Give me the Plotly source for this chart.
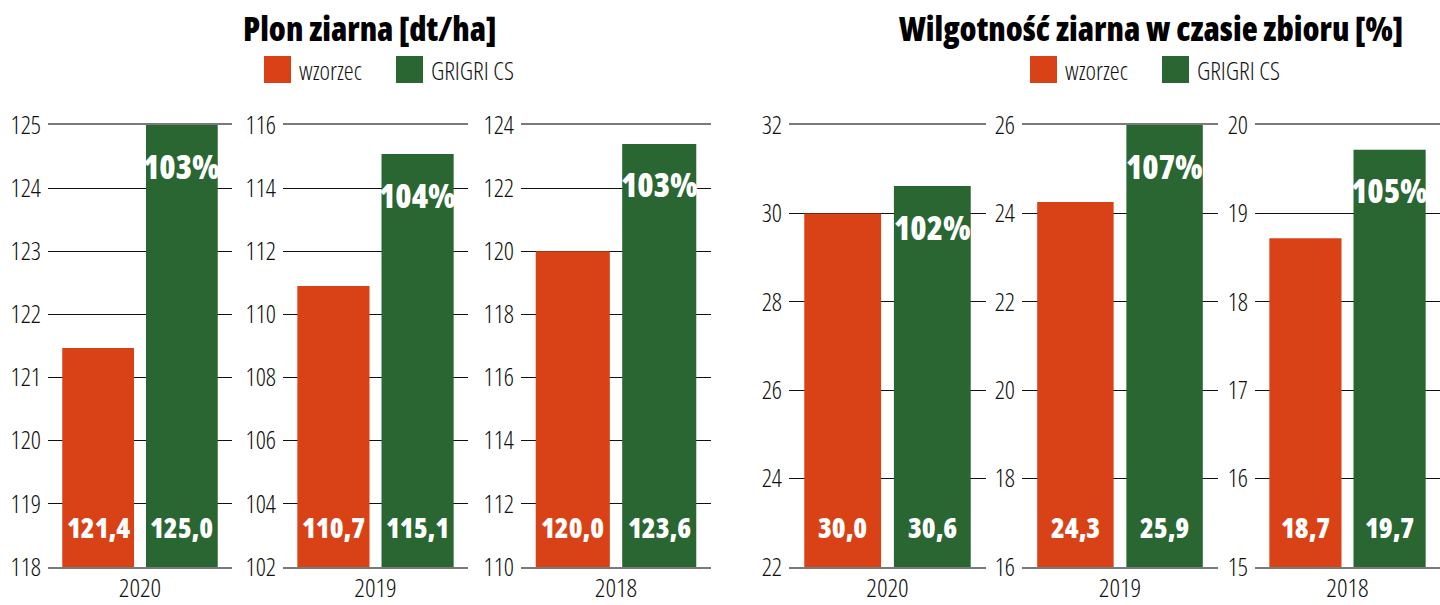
import plotly.graph_objects as go

# ---------------- data ----------------
years = ["2020", "2019", "2018"]
series_names = ["wzorzec", "GRIGRI CS"]

# Plon ziarna [dt/ha]
plon_wzorzec = [121.47, 110.9, 120.0]
plon_grigri = [125.0, 115.08, 123.4]
plon_wzorzec_labels = ["121,4", "110,7", "120,0"]
plon_grigri_labels = ["125,0", "115,1", "123,6"]
plon_pct_labels = ["103%", "104%", "103%"]
plon_axis_min = [118, 102, 110]
plon_axis_max = [125, 116, 124]
plon_axis_step = [1, 2, 2]

# Wilgotność ziarna w czasie zbioru [%]
wilg_wzorzec = [30.0, 24.26, 18.72]
wilg_grigri = [30.62, 26.0, 19.72]
wilg_wzorzec_labels = ["30,0", "24,3", "18,7"]
wilg_grigri_labels = ["30,6", "25,9", "19,7"]
wilg_pct_labels = ["102%", "107%", "105%"]
wilg_axis_min = [22, 16, 15]
wilg_axis_max = [32, 26, 20]
wilg_axis_step = [2, 2, 1]

titles = ["Plon ziarna [dt/ha]", "Wilgotność ziarna w czasie zbioru [%]"]

# ---------------- style ----------------
W, H = 1440, 605
ORANGE = "#D94216"
GREEN = "#2A6632"
FONT = "Open Sans, Roboto, sans-serif"
BAR_W = 0.39      # bar width in category units
BAR_GAP = 0.065   # gap between the two bars


def cond(t):
    return f"<span style='font-stretch:condensed'>{t}</span>"


def px_x(x):
    return x / W


def px_y(y):
    return 1 - y / H


# panel x-domains in pixels
panel_px = [(48, 232), (283, 468), (521, 711), (789, 986), (1022, 1218), (1255, 1440)]
y_dom = [px_y(567), px_y(125)]

fig = go.Figure()

panels = []
for i in range(3):
    panels.append(dict(year=years[i], a=plon_wzorzec[i], b=plon_grigri[i],
                       la=plon_wzorzec_labels[i], lb=plon_grigri_labels[i],
                       pct=plon_pct_labels[i], lo=plon_axis_min[i],
                       hi=plon_axis_max[i], step=plon_axis_step[i]))
for i in range(3):
    panels.append(dict(year=years[i], a=wilg_wzorzec[i], b=wilg_grigri[i],
                       la=wilg_wzorzec_labels[i], lb=wilg_grigri_labels[i],
                       pct=wilg_pct_labels[i], lo=wilg_axis_min[i],
                       hi=wilg_axis_max[i], step=wilg_axis_step[i]))

annotations = []
bar_offsets = [-(BAR_W + BAR_GAP / 2), BAR_GAP / 2]
centers = [o + BAR_W / 2 for o in bar_offsets]

for k, p in enumerate(panels):
    n = k + 1
    xa = "x" if n == 1 else f"x{n}"
    ya = "y" if n == 1 else f"y{n}"
    for j, (val, col, name) in enumerate([(p["a"], ORANGE, series_names[0]),
                                          (p["b"], GREEN, series_names[1])]):
        fig.add_trace(go.Bar(x=[p["year"]], y=[val], name=name,
                             marker=dict(color=col, line=dict(width=0)),
                             width=BAR_W, offset=bar_offsets[j],
                             xaxis=xa, yaxis=ya,
                             showlegend=False, hoverinfo="skip"))
    tickvals = list(range(p["lo"], p["hi"] + 1, p["step"]))
    fig.layout[f"xaxis{'' if n == 1 else n}"] = dict(
        domain=[px_x(panel_px[k][0]), px_x(panel_px[k][1])],
        anchor=ya, type="category", range=[-0.5, 0.5], showgrid=False, zeroline=False,
        showline=True, mirror=True, linecolor="#7a7a7a", linewidth=2,
        ticks="", tickvals=[p["year"]], ticktext=[cond(p["year"])],
        tickfont=dict(family=FONT, size=26, weight=300, color="#111"),
        ticklabelstandoff=-3,
        layer="below traces", fixedrange=True, automargin=False,
    )
    fig.layout[f"yaxis{'' if n == 1 else n}"] = dict(
        domain=y_dom, anchor=xa, range=[p["lo"], p["hi"]],
        tickvals=tickvals, ticktext=[cond(str(v)) for v in tickvals],
        showgrid=True, gridcolor="#111", gridwidth=1,
        zeroline=False, showline=False, ticks="",
        tickfont=dict(family=FONT, size=25, weight=300, color="#111"),
        ticklabelstandoff=6, fixedrange=True, automargin=False,
    )
    # value labels at bar bases
    for j, lab in enumerate([p["la"], p["lb"]]):
        annotations.append(dict(x=centers[j], y=p["lo"], xref=xa, yref=ya,
                                yshift=40, text=cond(lab), showarrow=False,
                                font=dict(family=FONT, size=28, weight=800, color="white")))
    # percent label inside green bar
    annotations.append(dict(x=centers[1], y=p["b"], xref=xa, yref=ya,
                            yshift=-41, text=cond(p["pct"]), showarrow=False,
                            font=dict(family=FONT, size=33, weight=800, color="white")))

# titles
for cx, t in zip([370, 1151], titles):
    annotations.append(dict(x=px_x(cx), y=px_y(28), xref="paper", yref="paper",
                            text=cond(t), showarrow=False,
                            xanchor="center", yanchor="middle",
                            font=dict(family=FONT, size=33, weight=900, color="#000")))

# legends
shapes = []
for lx in [264, 1030]:
    for j, (col, name) in enumerate([(ORANGE, series_names[0]), (GREEN, series_names[1])]):
        x0 = lx + j * 132
        shapes.append(dict(type="rect", xref="paper", yref="paper",
                           x0=px_x(x0), x1=px_x(x0 + 27), y0=px_y(83), y1=px_y(56),
                           fillcolor=col, line=dict(width=0)))
        annotations.append(dict(x=px_x(x0 + 33), y=px_y(70), xref="paper", yref="paper",
                                text=cond(name), showarrow=False, xanchor="left",
                                yanchor="middle",
                                font=dict(family=FONT, size=25, weight=300, color="#111")))

fig.update_layout(
    width=W, height=H, margin=dict(l=0, r=0, t=0, b=0, autoexpand=False),
    paper_bgcolor="white", plot_bgcolor="white",
    annotations=annotations, shapes=shapes, showlegend=False,
)

fig.write_html("out.html", config={"displayModeBar": False},
               post_script="document.body.style.margin='0';")
